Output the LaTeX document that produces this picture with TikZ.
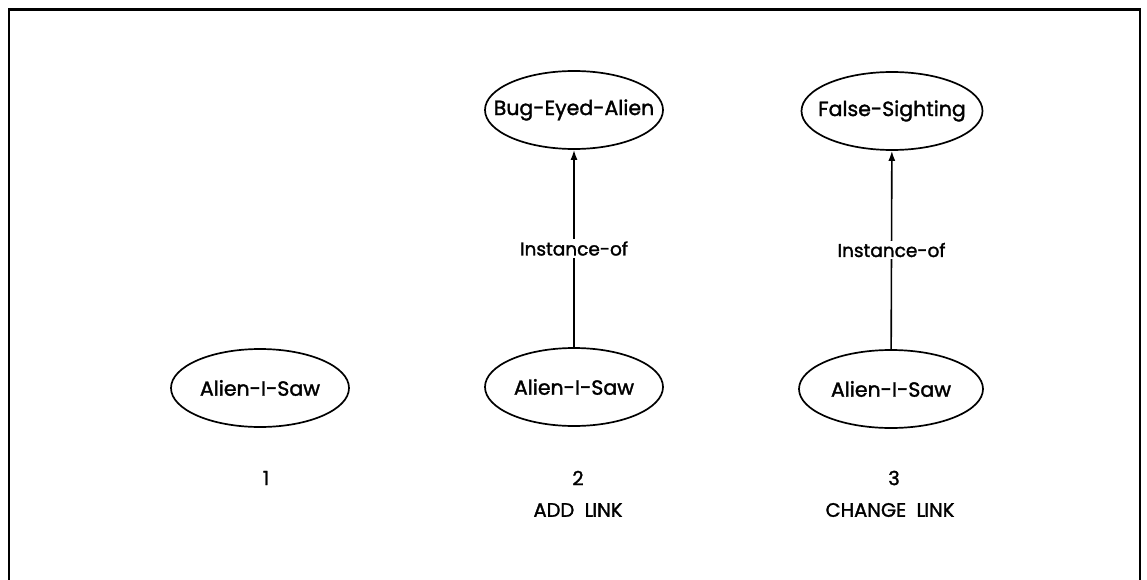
\documentclass[tikz,border=0pt]{standalone}
\usepackage{fontspec}
\setmainfont{Poppins}[FakeBold=1.6]
\usetikzlibrary{shapes.geometric,arrows.meta}
\newcommand\ovtxt[1]{\makebox[0pt]{#1}}
\tikzset{
  oval/.style={ellipse, draw, line width=1.7pt, inner sep=0pt,
    minimum width=178pt, minimum height=78pt,
    font=\fontsize{20.5}{24}\selectfont},
  linklabel/.style={fill=white, inner sep=2pt, font=\fontsize{18.5}{22}\selectfont},
  caption/.style={inner sep=0pt, font=\fontsize{19.5}{22}\selectfont, align=center},
  link/.style={line width=1.6pt, -{Latex[length=10pt,width=7pt]}},
  frame/.style={line width=2.6pt}
}
\begin{document}
\begin{tikzpicture}[x=1pt,y=-1pt]
\useasboundingbox (0,0) rectangle (1147,580);
\coordinate (fbl) at (9,585);
\coordinate (ftl) at (9,9.5);
\coordinate (ftr) at (1140,9.5);
\coordinate (fbr) at (1140,585);
\draw[frame] (fbl) -- (ftl) -- (ftr) -- (fbr);

% column 1
\node[oval] (a1) at (260,388) {\ovtxt{Alien-I-Saw}};
\node[caption] (n1) at (266,478) {1};

% column 2
\node[oval] (b2) at (574,110) {\ovtxt{Bug-Eyed-Alien}};
\node[oval] (a2) at (574,387) {\ovtxt{Alien-I-Saw}};
\draw[link] (a2) -- node[linklabel] (l2) {Instance-of} (b2);
\node[caption] (n2) at (578,478) {2};
\node[caption] (c2) at (578,510) {ADD\ \ L\kern-0.04em INK};

% column 3
\node[oval, minimum width=181pt] (f3) at (892,111) {\ovtxt{False-Sighting}};
\node[oval, minimum width=184pt] (a3) at (891,389) {\ovtxt{Alien-I-Saw}};
\draw[link] (a3) -- node[linklabel] (l3) {Instance-of} (f3);
\node[caption] (n3) at (894,478) {3};
\node[caption] (c3) at (890,510) {CHANGE\ \ L\kern-0.04em INK};
\end{tikzpicture}
\end{document}
